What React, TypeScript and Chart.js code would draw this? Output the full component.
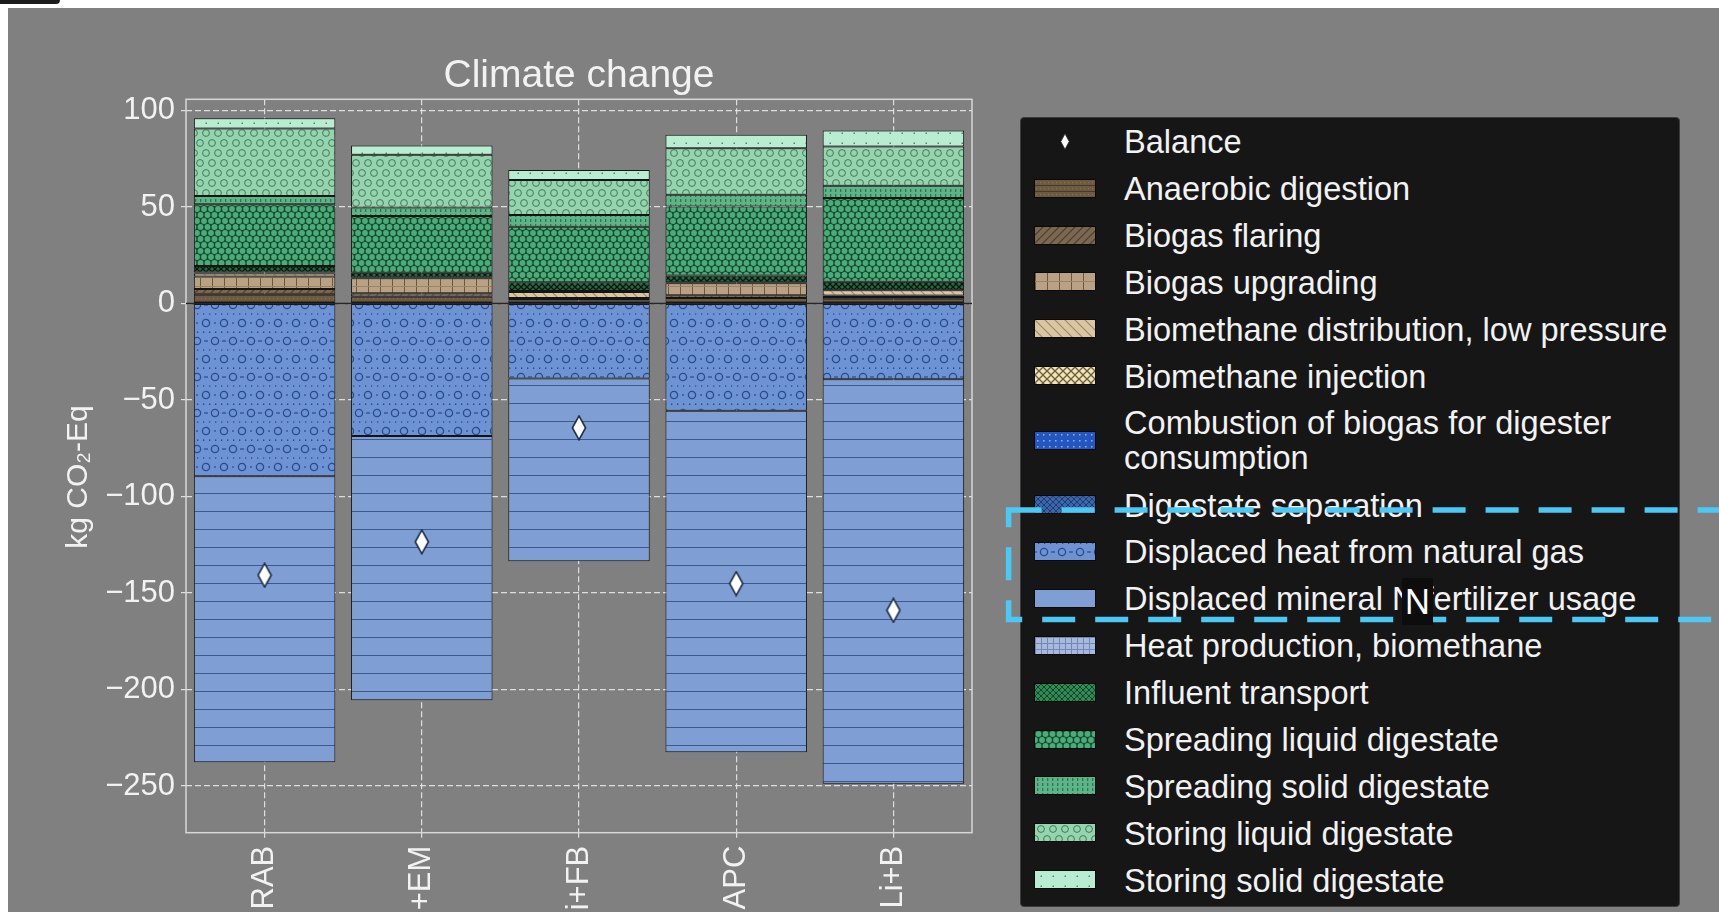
import React, { useEffect, useMemo, useRef } from 'react';
import { Chart, registerables } from 'chart.js';

Chart.register(...registerables);

// ---------------- data ----------------
const CATEGORIES = ['RAB', '+EM', 'i+FB', 'APC', 'Li+B'];
const Y_TICKS = [100, 50, 0, -50, -100, -150, -200, -250];
const Y_LABEL = 'kg CO\u2082-Eq';

const ANAEROBIC_DIGESTION = [5.0, 3.5, 1.5, 2.8, 2.2];
const BIOGAS_FLARING = [2.5, 1.8, 0.8, 1.5, 1.2];
const BIOGAS_UPGRADING = [6.5, 7.8, 0.5, 6.2, 0.8];
const BIOMETHANE_DISTRIBUTION = [1.5, 0.3, 3.2, 0.5, 2.7];
const BIOMETHANE_INJECTION = [0.6, 0, 0.5, 0, 0];
const COMBUSTION_BIOGAS = [0, 0, 0, 0, 0];
const DIGESTATE_SEPARATION = [0, 0, 0, 0, 0];
const DISPLACED_HEAT = [-89.5, -68.7, -38.8, -55.6, -39.3];
const DISPLACED_FERTILIZER = [-148.2, -136.9, -94.8, -176.9, -209.6];
const HEAT_PRODUCTION = [0, 0, 0, 0, 0];
const INFLUENT_TRANSPORT = [3.3, 2.5, 4.5, 3.5, 4.4];
const SPREADING_LIQUID = [32.0, 29.4, 28.8, 35.7, 43.3];
const SPREADING_SOLID = [4.3, 4.4, 6.1, 6.1, 6.4];
const STORING_LIQUID = [35.0, 27.4, 18.1, 24.2, 20.3];
const STORING_SOLID = [5.3, 4.8, 5.2, 6.9, 8.3];
const BALANCE = [-140.8, -123.5, -64.4, -145.1, -159.0];

const SERIES = [
  { label: 'Anaerobic digestion', data: ANAEROBIC_DIGESTION, key: 'ad' },
  { label: 'Biogas flaring', data: BIOGAS_FLARING, key: 'flaring' },
  { label: 'Biogas upgrading', data: BIOGAS_UPGRADING, key: 'upgrading' },
  { label: 'Biomethane distribution, low pressure', data: BIOMETHANE_DISTRIBUTION, key: 'distribution' },
  { label: 'Biomethane injection', data: BIOMETHANE_INJECTION, key: 'injection' },
  { label: 'Combustion of biogas for digester\nconsumption', data: COMBUSTION_BIOGAS, key: 'combustion' },
  { label: 'Digestate separation', data: DIGESTATE_SEPARATION, key: 'separation' },
  { label: 'Displaced heat from natural gas', data: DISPLACED_HEAT, key: 'heat' },
  { label: 'Displaced mineral N fertilizer usage', data: DISPLACED_FERTILIZER, key: 'fertilizer' },
  { label: 'Heat production, biomethane', data: HEAT_PRODUCTION, key: 'heatProd' },
  { label: 'Influent transport', data: INFLUENT_TRANSPORT, key: 'influent' },
  { label: 'Spreading liquid digestate', data: SPREADING_LIQUID, key: 'spLiquid' },
  { label: 'Spreading solid digestate', data: SPREADING_SOLID, key: 'spSolid' },
  { label: 'Storing liquid digestate', data: STORING_LIQUID, key: 'stLiquid' },
  { label: 'Storing solid digestate', data: STORING_SOLID, key: 'stSolid' },
];

// ---------------- styles ----------------
const FONT = '"Liberation Sans", Arial, Helvetica, sans-serif';
const TEXT = '#f2f2f2';

type G = CanvasRenderingContext2D;
function mk(w: number, h: number, bg: string | null, draw: (g: G) => void) {
  const c = document.createElement('canvas');
  c.width = w;
  c.height = h;
  const g = c.getContext('2d') as G;
  if (bg) {
    g.fillStyle = bg;
    g.fillRect(0, 0, w, h);
  }
  draw(g);
  return c;
}
function line(g: G, x1: number, y1: number, x2: number, y2: number) {
  g.beginPath();
  g.moveTo(x1, y1);
  g.lineTo(x2, y2);
  g.stroke();
}
function disc(g: G, x: number, y: number, r: number) {
  g.beginPath();
  g.arc(x, y, r, 0, Math.PI * 2);
  g.fill();
}
function ring(g: G, x: number, y: number, r: number) {
  g.beginPath();
  g.arc(x, y, r, 0, Math.PI * 2);
  g.stroke();
}

function makeTiles(): Record<string, HTMLCanvasElement> {
  return {
    ad: mk(8, 6, '#6c5a42', (g) => {
      g.fillStyle = '#483a28';
      g.fillRect(0, 5, 8, 1);
      g.fillStyle = '#8a755b';
      g.fillRect(1, 2, 1, 1);
      g.fillRect(5, 2, 1, 1);
    }),
    flaring: mk(8, 8, '#7b6850', (g) => {
      g.strokeStyle = '#4b3d2c';
      g.lineWidth = 1.2;
      line(g, 0, 8, 8, 0);
      line(g, -4, 4, 4, -4);
      line(g, 4, 12, 12, 4);
    }),
    upgrading: mk(12, 9, '#b8a283', (g) => {
      g.fillStyle = '#6e583b';
      g.fillRect(0, 0, 1, 9);
      g.fillStyle = '#9c8566';
      g.fillRect(0, 8, 12, 1);
    }),
    distribution: mk(10, 10, '#dac6a3', (g) => {
      g.strokeStyle = '#a08a68';
      g.lineWidth = 1.2;
      line(g, 0, 0, 10, 10);
      line(g, -5, 5, 5, 15);
      line(g, 5, -5, 15, 5);
    }),
    injection: mk(8, 8, '#f1e5b5', (g) => {
      g.strokeStyle = '#6d6040';
      g.lineWidth = 1.3;
      line(g, 0, 0, 8, 8);
      line(g, 0, 8, 8, 0);
    }),
    combustion: mk(6, 6, '#2456c2', (g) => {
      g.fillStyle = '#8fb0f0';
      g.fillRect(2, 2, 1.5, 1.5);
    }),
    separation: mk(6, 6, '#3b66ac', (g) => {
      g.strokeStyle = '#213c6c';
      g.lineWidth = 1;
      line(g, 0, 0, 6, 6);
      line(g, 0, 6, 6, 0);
    }),
    heat: mk(18, 36, '#6d93d4', (g) => {
      g.strokeStyle = '#2b4b8a';
      g.lineWidth = 1.3;
      ring(g, 9, 9, 3.6);
      ring(g, 0, 27, 3.6);
      ring(g, 18, 27, 3.6);
      g.fillStyle = '#2b4b8a';
      g.fillRect(0, 8.4, 2, 1.2);
      g.fillRect(16, 8.4, 2, 1.2);
      g.fillRect(8, 26.4, 2, 1.2);
      [3, 9, 15].forEach((x) => {
        g.fillRect(x, 17.4, 1.3, 1.3);
        g.fillRect(x, 0, 1.3, 1.0);
        g.fillRect(x, 35.4, 1.3, 0.6);
      });
    }),
    fertilizer: mk(8, 18, '#7f9fd4', (g) => {
      g.fillStyle = '#3d5889';
      g.fillRect(0, 17, 8, 1);
    }),
    heatProd: mk(6, 6, '#a7badd', (g) => {
      g.fillStyle = '#7287b3';
      g.fillRect(0, 0, 6, 1);
      g.fillRect(0, 0, 1, 6);
    }),
    influent: mk(6, 6, '#226b42', (g) => {
      g.strokeStyle = '#06170d';
      g.lineWidth = 1.3;
      line(g, 0, 0, 6, 6);
      line(g, 0, 6, 6, 0);
    }),
    influentLegend: mk(6, 6, '#2f8a55', (g) => {
      g.strokeStyle = '#14442a';
      g.lineWidth = 1;
      line(g, 0, 0, 6, 6);
      line(g, 0, 6, 6, 0);
    }),
    spLiquid: mk(7, 12, '#17492f', (g) => {
      g.fillStyle = '#4aac78';
      disc(g, 3.5, 3, 2.9);
      disc(g, 0, 9, 2.9);
      disc(g, 7, 9, 2.9);
    }),
    spSolid: mk(5, 5, '#5db487', (g) => {
      g.fillStyle = '#2f7652';
      g.fillRect(2, 1, 1.3, 3);
    }),
    stLiquid: mk(12, 20, '#95d4ae', (g) => {
      g.strokeStyle = '#3e7c59';
      g.lineWidth = 1;
      ring(g, 6, 5, 3.4);
      ring(g, 0, 15, 3.4);
      ring(g, 12, 15, 3.4);
    }),
    stSolid: mk(12, 10, '#b9edd2', (g) => {
      g.fillStyle = '#4f8a6a';
      g.fillRect(5.5, 4.5, 1.5, 1.5);
    }),
    diamond: mk(16, 26, null, (g) => {
      g.beginPath();
      g.moveTo(8, 1.2);
      g.lineTo(14.6, 13);
      g.lineTo(8, 24.8);
      g.lineTo(1.4, 13);
      g.closePath();
      g.fillStyle = '#ffffff';
      g.fill();
      g.strokeStyle = '#1d2b45';
      g.lineWidth = 1.6;
      g.stroke();
    }),
  };
}

const framePlugin = {
  id: 'frameAndZero',
  beforeDatasetsDraw(chart: any) {
    const { ctx, chartArea: a } = chart;
    ctx.save();
    ctx.strokeStyle = '#d6d6d6';
    ctx.lineWidth = 1.5;
    ctx.strokeRect(a.left, a.top, a.right - a.left, a.bottom - a.top);
    // y axis title
    ctx.translate(71, (a.top + a.bottom) / 2 + 11);
    ctx.rotate(-Math.PI / 2);
    ctx.fillStyle = TEXT;
    ctx.font = `30px ${FONT}`;
    ctx.textAlign = 'center';
    ctx.textBaseline = 'middle';
    ctx.fillText(Y_LABEL, 0, 0);
    ctx.restore();
  },
  afterDatasetsDraw(chart: any) {
    const { ctx, chartArea: a, scales } = chart;
    const y0 = scales.y.getPixelForValue(0);
    ctx.save();
    ctx.strokeStyle = '#262626';
    ctx.lineWidth = 1.6;
    ctx.beginPath();
    ctx.moveTo(a.left, y0);
    ctx.lineTo(a.right, y0);
    ctx.stroke();
    ctx.restore();
  },
};

const fmt = (v: number) => (v < 0 ? '\u2212' + Math.abs(v) : String(v));

// legend layout
const LEG_PITCH = 46.9;
const LEG_EXTRA = 35;

export default function App() {
  const canvasRef = useRef<HTMLCanvasElement>(null);
  const tiles = useMemo(() => makeTiles(), []);
  const urls = useMemo(() => {
    const o: Record<string, string> = {};
    Object.keys(tiles).forEach((k) => (o[k] = tiles[k].toDataURL()));
    return o;
  }, [tiles]);

  useEffect(() => {
    const canvas = canvasRef.current as HTMLCanvasElement;
    const ctx = canvas.getContext('2d') as CanvasRenderingContext2D;
    const datasets: any[] = [
      {
        type: 'line',
        label: 'Balance',
        data: BALANCE,
        showLine: false,
        pointStyle: tiles.diamond,
        pointRadius: 8,
        order: 0,
        stack: 'balance',
      },
      ...SERIES.map((s) => ({
        type: 'bar',
        label: s.label,
        data: s.data,
        backgroundColor: ctx.createPattern(tiles[s.key], 'repeat'),
        borderColor: '#141414',
        borderWidth: 1,
        borderSkipped: false,
        categoryPercentage: 1,
        barPercentage: 0.9,
        order: 1,
        stack: 'main',
      })),
    ];
    const tickFont = { family: FONT, size: 31 };
    const chart = new Chart(ctx, {
      type: 'bar',
      data: { labels: CATEGORIES, datasets },
      options: {
        responsive: false,
        animation: false,
        events: [],
        layout: { padding: { left: 0, right: 747, top: 39.5, bottom: 0 } },
        plugins: {
          legend: { display: false },
          tooltip: { enabled: false },
          title: {
            display: true,
            text: 'Climate change',
            fullSize: false,
            color: TEXT,
            font: { family: FONT, size: 39, weight: 'normal' },
            padding: { top: 5, bottom: 0 },
          },
        },
        scales: {
          x: {
            stacked: true,
            offset: true,
            grid: {
              offset: false,
              color: 'rgba(232,232,232,0.9)',
              lineWidth: 1.2,
              tickLength: 5,
              tickColor: '#e0e0e0',
              tickWidth: 1.2,
              tickBorderDash: [],
            },
            border: { display: false, dash: [6, 3] },
            ticks: {
              color: TEXT,
              font: tickFont,
              minRotation: 90,
              maxRotation: 90,
              autoSkip: false,
              padding: 8,
            },
            afterFit: (s: any) => {
              s.height = 79.3;
            },
          },
          y: {
            stacked: true,
            min: -274.2,
            max: 105.8,
            grid: {
              color: 'rgba(232,232,232,0.9)',
              lineWidth: 1.2,
              tickLength: 5,
              tickColor: '#e0e0e0',
              tickWidth: 1.2,
              tickBorderDash: [],
            },
            border: { display: false, dash: [6, 3] },
            afterBuildTicks: (axis: any) => {
              axis.ticks = Y_TICKS.map((v) => ({ value: v }));
            },
            ticks: {
              color: TEXT,
              font: tickFont,
              padding: 6,
              callback: (v: any) => fmt(Number(v)),
            },
            afterFit: (s: any) => {
              s.width = 178;
            },
          },
        },
      } as any,
      plugins: [framePlugin],
    });
    return () => chart.destroy();
  }, [tiles]);

  const legendItems = [{ label: 'Balance', key: 'balance' }, ...SERIES.map((s) => ({ label: s.label, key: s.key }))];
  let extra = 0;
  const rows = legendItems.map((it, i) => {
    const lines = it.label.split('\n').length;
    const center = 23 + LEG_PITCH * i + extra + (lines - 1) * LEG_EXTRA * 0.5;
    extra += (lines - 1) * LEG_EXTRA;
    return { ...it, center, lines };
  });

  return (
    <>
      <div
        style={{
          position: 'fixed',
          left: 0,
          top: 0,
          width: 60,
          height: 4,
          background: '#1c1c1c',
          borderBottomRightRadius: 4,
        }}
      />
      <div
        style={{
          position: 'fixed',
          left: 8,
          top: 8,
          right: 0,
          bottom: 0,
          background: '#808080',
          overflow: 'hidden',
        }}
      >
        <canvas ref={canvasRef} width={1711} height={904} style={{ display: 'block', width: 1711, height: 904 }} />
        <div
          style={{
            position: 'absolute',
            left: 1012,
            top: 109.3,
            width: 660,
            height: 790,
            background: '#161616',
            borderRadius: 4,
            border: '1px solid #3c3c3c',
            boxSizing: 'border-box',
          }}
        >
          {rows.map((r) => (
            <React.Fragment key={r.key}>
              {r.key === 'balance' ? (
                <svg
                  width={10}
                  height={17}
                  style={{ position: 'absolute', left: 39, top: r.center - 8.5 }}
                >
                  <polygon points="5,0.8 9.2,8.5 5,16.2 0.8,8.5" fill="#ffffff" stroke="#333" strokeWidth={0.8} />
                </svg>
              ) : (
                <div
                  style={{
                    position: 'absolute',
                    left: 13,
                    top: r.center - 9.5,
                    width: 62,
                    height: 19,
                    boxSizing: 'border-box',
                    border: '1px solid #0a0a0a',
                    backgroundImage: `url(${urls[r.key === 'influent' ? 'influentLegend' : r.key]})`,
                    backgroundRepeat: 'repeat',
                  }}
                />
              )}
              <div
                style={{
                  position: 'absolute',
                  left: 103,
                  top: r.center,
                  transform: 'translateY(-50%)',
                  fontFamily: FONT,
                  fontSize: 32.6,
                  lineHeight: '35px',
                  color: TEXT,
                  whiteSpace: 'pre',
                }}
              >
                {r.label}
              </div>
            </React.Fragment>
          ))}
        </div>
      </div>
      <svg
        width={1719}
        height={912}
        style={{ position: 'fixed', left: 0, top: 0, pointerEvents: 'none' }}
      >
        <rect
          x={1008.6}
          y={510}
          width={800}
          height={109.6}
          fill="none"
          stroke="#4cc8f5"
          strokeWidth={5.5}
          strokeDasharray="33 20"
        />
      </svg>
      <div
        style={{
          position: 'fixed',
          left: 1402,
          top: 578,
          width: 31,
          height: 47,
          background: '#0d0d0d',
          color: '#ffffff',
          fontFamily: '"Noto Sans", sans-serif',
          fontSize: 34,
          lineHeight: '47px',
          textAlign: 'center',
        }}
      >
        N
      </div>
    </>
  );
}
